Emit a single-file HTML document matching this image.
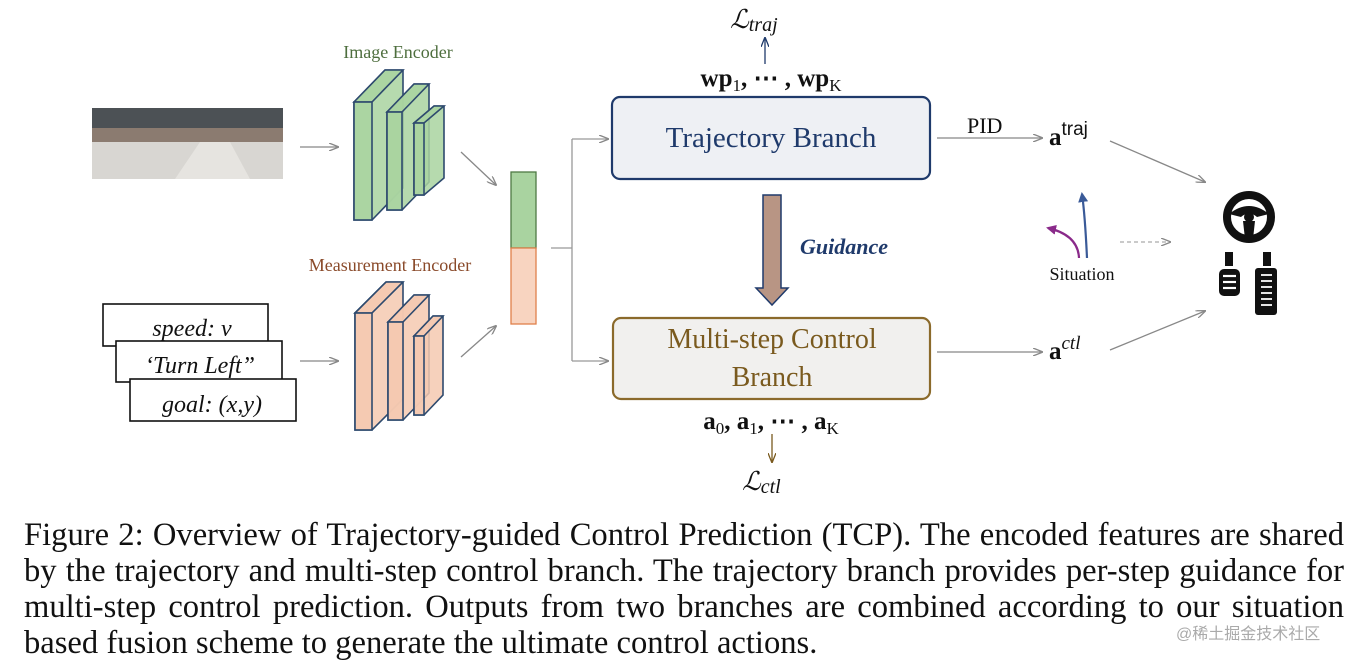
<!DOCTYPE html>
<html><head><meta charset="utf-8"><style>
html,body{margin:0;padding:0;background:#fff;width:1356px;height:660px;overflow:hidden}
svg{display:block}
.cap{position:absolute;left:24px;width:1320px;font-family:"Liberation Serif",serif;font-size:32.6px;line-height:36px;color:#111;text-align:justify;text-align-last:justify;white-space:nowrap}
</style></head><body>
<svg width="1356" height="660" viewBox="0 0 1356 660" xmlns="http://www.w3.org/2000/svg" font-family="Liberation Serif, serif">
<defs>
<marker id="ag" markerWidth="10" markerHeight="8" refX="9" refY="4" orient="auto" markerUnits="userSpaceOnUse"><path d="M0,0 L10,4 L0,8" fill="none" stroke="#888" stroke-width="1.3"/></marker>
<marker id="ab" markerWidth="10" markerHeight="8" refX="9" refY="4" orient="auto" markerUnits="userSpaceOnUse"><path d="M0,0 L10,4 L0,8" fill="none" stroke="#1f3a6b" stroke-width="1.3"/></marker>
<marker id="abr" markerWidth="10" markerHeight="8" refX="9" refY="4" orient="auto" markerUnits="userSpaceOnUse"><path d="M0,0 L10,4 L0,8" fill="none" stroke="#7a5a1e" stroke-width="1.3"/></marker>
<marker id="ablu" markerWidth="10" markerHeight="10" refX="8" refY="5" orient="auto" markerUnits="userSpaceOnUse"><path d="M0,0 L10,5 L0,10 Z" fill="#3a5a98"/></marker>
<marker id="apur" markerWidth="10" markerHeight="10" refX="8" refY="5" orient="auto" markerUnits="userSpaceOnUse"><path d="M0,0 L10,5 L0,10 Z" fill="#8a2a8a"/></marker>
</defs>
<rect x="92" y="108" width="191" height="71" fill="#ddd"/>
<rect x="92" y="108" width="191" height="28" fill="#4c5155"/>
<rect x="92" y="128" width="191" height="14" fill="#8b7b70"/>
<rect x="92" y="142" width="191" height="37" fill="#d8d6d2"/>
<path d="M200,142 L175,179 L250,179 L230,142Z" fill="#e6e4e0"/>
<line x1="300" y1="147" x2="338" y2="147" stroke="#888" stroke-width="1.3" marker-end="url(#ag)"/>
<line x1="300" y1="361" x2="338" y2="361" stroke="#888" stroke-width="1.3" marker-end="url(#ag)"/>
<text x="398" y="58" text-anchor="middle" font-size="18" fill="#4e6e3e">Image Encoder</text>
<text x="390" y="271" text-anchor="middle" font-size="18" fill="#8a4a2a">Measurement Encoder</text>
<g stroke="#2e4a6e" stroke-width="1.6" fill="#a9d3a0" fill-opacity="0.85">
<path d="M354,102 L385,70 L403,70 L403,188 L372,220 L354,220Z"/><path d="M354,102 L385,70 L403,70 L372,102Z"/><rect x="354" y="102" width="18" height="118"/>
<path d="M387,112 L414,84 L429,84 L429,182 L402,210 L387,210Z"/><path d="M387,112 L414,84 L429,84 L402,112Z"/><rect x="387" y="112" width="15" height="98"/>
<path d="M414,123 L434,106 L444,106 L444,178 L424,195 L414,195Z"/><path d="M414,123 L434,106 L444,106 L424,123Z"/><rect x="414" y="123" width="10" height="72"/>
</g>
<g stroke="#2e4a6e" stroke-width="1.6" fill="#f4c9b0" fill-opacity="0.85">
<path d="M355,313 L386,282 L403,282 L403,399 L372,430 L355,430Z"/><path d="M355,313 L386,282 L403,282 L372,313Z"/><rect x="355" y="313" width="17" height="117"/>
<path d="M388,322 L414,295 L429,295 L429,393 L403,420 L388,420Z"/><path d="M388,322 L414,295 L429,295 L403,322Z"/><rect x="388" y="322" width="15" height="98"/>
<path d="M414,336 L433,316 L443,316 L443,395 L424,415 L414,415Z"/><path d="M414,336 L433,316 L443,316 L424,336Z"/><rect x="414" y="336" width="10" height="79"/>
</g>
<g stroke="#111" stroke-width="1.6" fill="#fff" font-style="italic" font-size="24" text-anchor="middle">
<rect x="103" y="304" width="165" height="42"/><text x="192" y="336" stroke="none" fill="#111">speed: v</text>
<rect x="116" y="341" width="166" height="41"/><text x="200" y="373" stroke="none" fill="#111">‘Turn Left”</text>
<rect x="130" y="379" width="166" height="42"/><text x="212" y="412" stroke="none" fill="#111">goal: (x,y)</text>
</g>
<line x1="461" y1="152" x2="496" y2="185" stroke="#888" stroke-width="1.3" marker-end="url(#ag)"/>
<line x1="461" y1="357" x2="496" y2="326" stroke="#888" stroke-width="1.3" marker-end="url(#ag)"/>
<rect x="511" y="172" width="25" height="76" fill="#a9d3a0" stroke="#4e7a44" stroke-width="1.3"/>
<rect x="511" y="248" width="25" height="76" fill="#f8d4c0" stroke="#e0804a" stroke-width="1.3"/>
<path d="M551,248 L572,248 M572,139 L572,361" stroke="#999" stroke-width="1.3" fill="none"/>
<line x1="572" y1="139" x2="608" y2="139" stroke="#999" stroke-width="1.3" marker-end="url(#ag)"/>
<line x1="572" y1="361" x2="608" y2="361" stroke="#999" stroke-width="1.3" marker-end="url(#ag)"/>
<rect x="612" y="97" width="318" height="82" rx="8" fill="#eef0f4" stroke="#1f3a6b" stroke-width="2.2"/>
<text x="771" y="147" text-anchor="middle" font-size="29" fill="#1f3a6b">Trajectory Branch</text>
<text x="771" y="86" text-anchor="middle" font-size="25" font-weight="bold" fill="#111">wp<tspan font-size="17" font-weight="normal" dy="5">1</tspan><tspan dy="-5">, ⋯ , wp</tspan><tspan font-size="17" font-weight="normal" dy="5">K</tspan></text>
<line x1="765" y1="64" x2="765" y2="38" stroke="#1f3a6b" stroke-width="1.3" marker-end="url(#ab)"/>
<text x="730" y="28" font-size="26" font-style="italic" fill="#111">ℒ<tspan font-size="20" dy="3">traj</tspan></text>
<path d="M763,195 L781,195 L781,288 L788,288 L772,305 L756,288 L763,288Z" fill="#b89584" stroke="#1f3a6b" stroke-width="1.5"/>
<text x="800" y="254" font-size="22" font-weight="bold" font-style="italic" fill="#1f3a6b">Guidance</text>
<rect x="613" y="318" width="317" height="81" rx="8" fill="#f1f0ee" stroke="#8b6a2b" stroke-width="2.2"/>
<text x="772" y="348" text-anchor="middle" font-size="28" fill="#7a5a1e">Multi-step Control</text>
<text x="772" y="386" text-anchor="middle" font-size="28" fill="#7a5a1e">Branch</text>
<text x="771" y="429" text-anchor="middle" font-size="25" font-weight="bold" fill="#111">a<tspan font-size="17" font-weight="normal" dy="5">0</tspan><tspan dy="-5">, a</tspan><tspan font-size="17" font-weight="normal" dy="5">1</tspan><tspan dy="-5">, ⋯ , a</tspan><tspan font-size="17" font-weight="normal" dy="5">K</tspan></text>
<line x1="772" y1="434" x2="772" y2="462" stroke="#7a5a1e" stroke-width="1.3" marker-end="url(#abr)"/>
<text x="742" y="490" font-size="26" font-style="italic" fill="#111">ℒ<tspan font-size="20" dy="3">ctl</tspan></text>
<text x="967" y="133" font-size="22" fill="#111">PID</text>
<line x1="937" y1="138" x2="1042" y2="138" stroke="#888" stroke-width="1.3" marker-end="url(#ag)"/>
<text x="1049" y="145" font-size="25" font-weight="bold" fill="#111">a<tspan font-size="19" font-weight="normal" dy="-10" font-family="Liberation Sans, sans-serif">traj</tspan></text>
<line x1="937" y1="352" x2="1042" y2="352" stroke="#888" stroke-width="1.3" marker-end="url(#ag)"/>
<text x="1049" y="359" font-size="25" font-weight="bold" fill="#111">a<tspan font-size="19" font-weight="normal" font-style="italic" dy="-10">ctl</tspan></text>
<line x1="1110" y1="141" x2="1205" y2="182" stroke="#888" stroke-width="1.3" marker-end="url(#ag)"/>
<line x1="1110" y1="350" x2="1205" y2="311" stroke="#888" stroke-width="1.3" marker-end="url(#ag)"/>
<path d="M1087,258 Q1085,215 1082,194" stroke="#3a5a98" stroke-width="2.2" fill="none" marker-end="url(#ablu)"/>
<path d="M1079,258 Q1078,235 1048,228" stroke="#8a2a8a" stroke-width="2.2" fill="none" marker-end="url(#apur)"/>
<line x1="1120" y1="242" x2="1170" y2="242" stroke="#aaa" stroke-width="1.2" stroke-dasharray="4,3" marker-end="url(#ag)"/>
<text x="1082" y="280" text-anchor="middle" font-size="18" fill="#111">Situation</text>
<circle cx="1249" cy="217" r="22" fill="none" stroke="#111" stroke-width="8"/>
<path d="M1229,214 Q1249,198 1269,214 L1257,217 Q1249,210 1241,217Z" fill="#111"/>
<circle cx="1249" cy="217" r="5" fill="#111"/>
<path d="M1243,221 L1255,221 L1253,239 L1245,239Z" fill="#111"/>
<rect x="1225" y="252" width="8" height="14" fill="#111"/>
<rect x="1219" y="269" width="21" height="27" rx="5" fill="#111"/>
<g stroke="#fff" stroke-width="2.2"><line x1="1223" y1="276" x2="1236" y2="276"/><line x1="1223" y1="282" x2="1236" y2="282"/><line x1="1223" y1="288" x2="1236" y2="288"/></g>
<rect x="1263" y="252" width="8" height="14" fill="#111"/>
<rect x="1255" y="268" width="22" height="47" rx="3" fill="#111"/>
<g stroke="#fff" stroke-width="1.8"><line x1="1261" y1="275" x2="1272" y2="275"/><line x1="1261" y1="281" x2="1272" y2="281"/><line x1="1261" y1="287" x2="1272" y2="287"/><line x1="1261" y1="293" x2="1272" y2="293"/><line x1="1261" y1="299" x2="1272" y2="299"/><line x1="1261" y1="305" x2="1272" y2="305"/></g>
</svg>
<div class="cap" style="top:517px">Figure 2: Overview of Trajectory-guided Control Prediction (TCP). The encoded features are shared</div>
<div class="cap" style="top:553px">by the trajectory and multi-step control branch. The trajectory branch provides per-step guidance for</div>
<div class="cap" style="top:589px">multi-step control prediction. Outputs from two branches are combined according to our situation</div>
<div class="cap" style="top:625px;text-align-last:left">based fusion scheme to generate the ultimate control actions.</div>
<div style="position:absolute;left:1176px;top:620px;font-family:'Liberation Sans','Noto Sans CJK SC',sans-serif;font-size:16px;color:#aaa">@稀土掘金技术社区</div>
</body></html>
